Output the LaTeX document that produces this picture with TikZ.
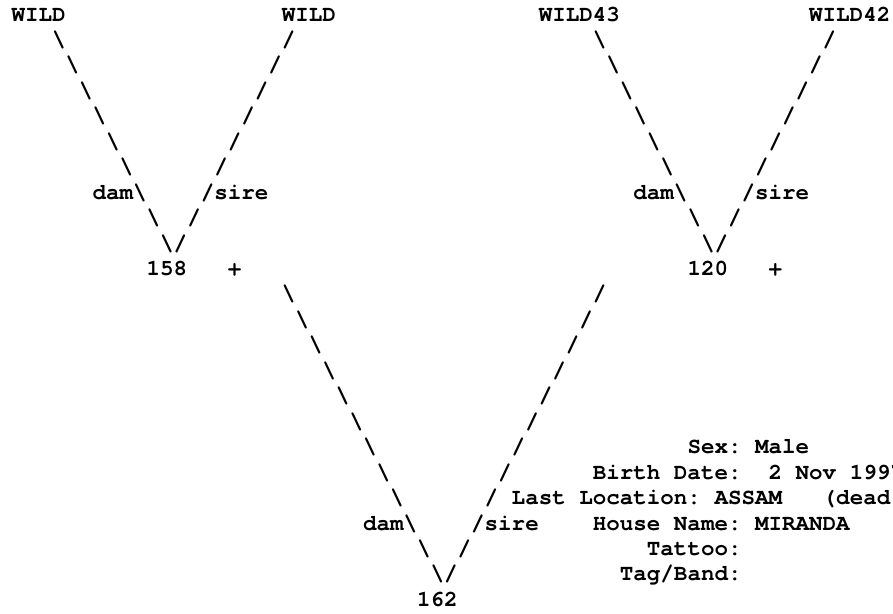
\documentclass[tikz,border=0pt]{standalone}
\usepackage{fontspec}
\setmonofont{texgyrecursor}[Extension=.otf,UprightFont=*-regular,BoldFont=*-bold]
\newcommand\gridpos[2]{({11.5+13.52*(#1)},{21+25.45*(#2)})}
\tikzset{
  txt/.style={anchor=base west, inner sep=0pt, outer sep=0pt,
    font=\ttfamily\bfseries\fontsize{22.53}{25}\selectfont, text=black},
}
\begin{document}
\begin{tikzpicture}[x=1pt,y=-1pt]
\clip (0,0) rectangle (893,613);
\fill[white] (0,0) rectangle (893,613);
% row 0: grandparents
\node[txt] (wa) at \gridpos{0}{0} {WILD};
\node[txt] (wb) at \gridpos{20}{0} {WILD};
\node[txt] (wc) at \gridpos{39}{0} {WILD43};
\node[txt] (wd) at \gridpos{59}{0} {WILD42};
% upper arms
\foreach \r in {1,...,6}{
  \node[txt] (lb\r) at \gridpos{\r+2}{\r} {\textbackslash};
  \node[txt] (ls\r) at \gridpos{21-\r}{\r} {/};
  \node[txt] (rb\r) at \gridpos{\r+42}{\r} {\textbackslash};
  \node[txt] (rs\r) at \gridpos{61-\r}{\r} {/};
}
\node[txt] (dama) at \gridpos{6}{7} {dam\textbackslash};
\node[txt] (sirea) at \gridpos{14}{7} {/sire};
\node[txt] (damb) at \gridpos{46}{7} {dam\textbackslash};
\node[txt] (sireb) at \gridpos{54}{7} {/sire};
\node[txt] (lb8) at \gridpos{10}{8} {\textbackslash};
\node[txt] (ls8) at \gridpos{13}{8} {/};
\node[txt] (rb8) at \gridpos{50}{8} {\textbackslash};
\node[txt] (rs8) at \gridpos{53}{8} {/};
\node[txt] (lv) at \gridpos{11}{9} {\textbackslash/};
\node[txt] (rv) at \gridpos{51}{9} {\textbackslash/};
% parents
\node[txt] (p158) at \gridpos{10}{10} {158};
\node[txt] (plusa) at \gridpos{16}{10} {+};
\node[txt] (p120) at \gridpos{50}{10} {120};
\node[txt] (plusb) at \gridpos{56}{10} {+};
% lower arms
\foreach \r in {11,...,19}{
  \node[txt] (bb\r) at \gridpos{\r+9}{\r} {\textbackslash};
  \node[txt] (bs\r) at \gridpos{54-\r}{\r} {/};
}
\node[txt] (damc) at \gridpos{26}{20} {dam\textbackslash};
\node[txt] (sirec) at \gridpos{34}{20} {/sire};
\node[txt] (bb21) at \gridpos{30}{21} {\textbackslash};
\node[txt] (bs21) at \gridpos{33}{21} {/};
\node[txt] (bv) at \gridpos{31}{22} {\textbackslash/};
\node[txt] (p162) at \gridpos{30}{23} {162};
% data block
\node[txt] (sex) at \gridpos{50}{17} {Sex:};
\node[txt] (sexv) at \gridpos{55}{17} {Male};
\node[txt] (bd) at \gridpos{43}{18} {Birth Date:};
\node[txt] (bdd) at \gridpos{56}{18} {2};
\node[txt] (bdm) at \gridpos{58}{18} {Nov};
\node[txt] (bdy) at \gridpos{62}{18} {1997};
\node[txt] (ll) at \gridpos{37}{19} {Last Location:};
\node[txt] (llv) at \gridpos{52}{19} {ASSAM};
\node[txt] (lld) at \gridpos{60}{19} {(dead)};
\node[txt] (hn) at \gridpos{43}{20} {House Name:};
\node[txt] (hnv) at \gridpos{55}{20} {MIRANDA};
\node[txt] (tat) at \gridpos{47}{21} {Tattoo:};
\node[txt] (tag) at \gridpos{45}{22} {Tag/Band:};
\end{tikzpicture}
\end{document}
